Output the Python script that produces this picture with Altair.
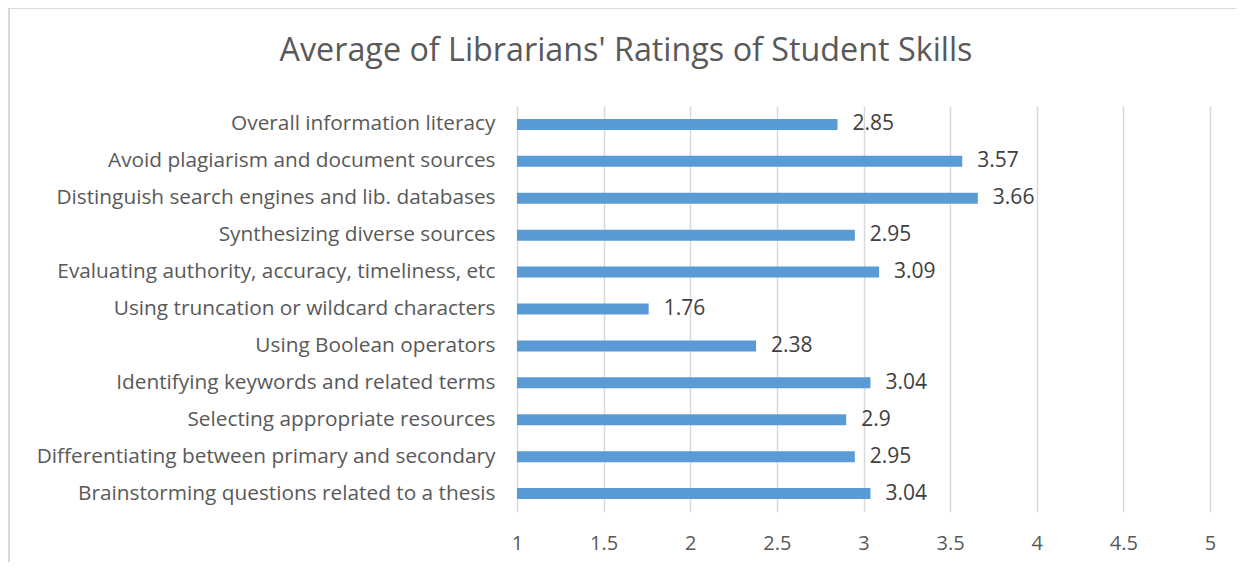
import altair as alt
import pandas as pd

skills = [
    "Overall information literacy ",
    "Avoid plagiarism and document sources",
    "Distinguish search engines and lib. databases",
    "Synthesizing diverse sources ",
    "Evaluating  authority, accuracy, timeliness, etc",
    "Using truncation or wildcard characters ",
    "Using Boolean operators",
    "Identifying keywords and related terms ",
    "Selecting appropriate resources",
    "Differentiating between primary and secondary ",
    "Brainstorming questions related to a thesis ",
]
ratings = [2.85, 3.57, 3.66, 2.95, 3.09, 1.76, 2.38, 3.04, 2.9, 2.95, 3.04]
labels = ["2.85", "3.57", "3.66", "2.95", "3.09", "1.76", "2.38", "3.04", "2.9", "2.95", "3.04"]
x_ticks = [1, 1.5, 2, 2.5, 3, 3.5, 4, 4.5, 5]
title_text = "Average of Librarians' Ratings of Student Skills"

df = pd.DataFrame({"skill": skills, "rating": ratings, "label": labels, "base": [1] * len(skills)})
title_df = pd.DataFrame({"t": [title_text]})

FONT = "Open Sans"
GREY = "#595959"
FS = 20.8

y_enc = alt.Y(
    "skill:N",
    sort=skills,
    title=None,
    scale=alt.Scale(paddingInner=0.0, paddingOuter=0.0),
    axis=alt.Axis(
        domain=False, ticks=False, labelPadding=22, labelFontSize=FS,
        labelColor=GREY, labelFont=FONT, labelLimit=600, grid=False,
    ),
)
x_scale = alt.Scale(domain=[1, 5], zero=False, nice=False)

bars = alt.Chart(df).mark_bar(color="#5B9BD5", size=11).encode(
    x=alt.X(
        "rating:Q",
        scale=x_scale,
        title=None,
        axis=alt.Axis(
            values=x_ticks, format="~g", domain=False, ticks=False, grid=True,
            gridColor="#d9d9d9", gridWidth=1.5, labelFontSize=20,
            labelColor=GREY, labelFont=FONT, labelPadding=21,
            labelFlush=False, labelOverlap=False,
        ),
    ),
    x2="base:Q",
    y=y_enc,
)

text = alt.Chart(df).mark_text(
    align="left", baseline="middle", dx=15, fontSize=21, font=FONT, color="#404040"
).encode(
    x=alt.X("rating:Q", scale=x_scale),
    y=alt.Y("skill:N", sort=skills),
    text="label:N",
)

border = alt.Chart(title_df).mark_rect(
    fill=None, stroke="#d9d9d9", strokeWidth=2
).encode(
    x=alt.value(-508), x2=alt.value(760), y=alt.value(-98), y2=alt.value(500)
)

title = alt.Chart(title_df).mark_text(
    align="center", baseline="middle", fontSize=32.3, font=FONT, color=GREY
).encode(
    x=alt.value(626 - 517), y=alt.value(51 - 106), text="t:N"
)

chart = alt.layer(border, bars, text, title).properties(
    width=693,
    height=406,
    padding={"left": 509, "top": 98, "right": 26, "bottom": 50},
    autosize=alt.AutoSizeParams(type="none"),
).configure_view(stroke=None)

chart.save("out.html", embed_options={"renderer": "svg", "actions": False})
